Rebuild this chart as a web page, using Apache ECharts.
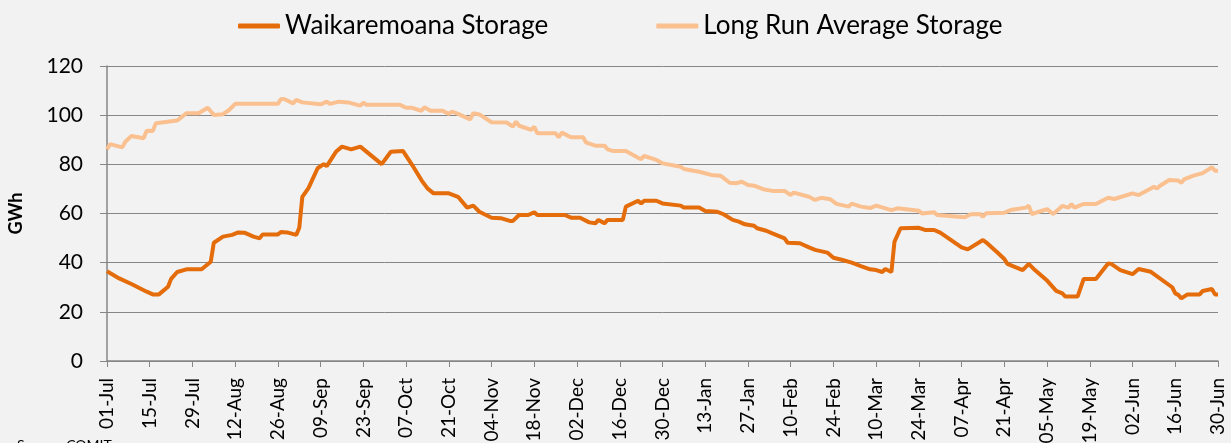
<!DOCTYPE html>
<html>
<head>
<meta charset="utf-8">
<title>Waikaremoana Storage</title>
<script src="https://cdn.jsdelivr.net/npm/echarts@6/dist/echarts.min.js"></script>
<style>
    html, body { margin: 0; padding: 0; background: #f2f2f2; }
    #storageChart { width: 1231px; height: 443px; }
</style>
</head>
<body>
<div id="storageChart"></div>
<script>
// tick labels, one every 14 days from 01-Jul
var tickLabels = ['01-Jul', '15-Jul', '29-Jul', '12-Aug', '26-Aug', '09-Sep', '23-Sep', '07-Oct', '21-Oct',
    '04-Nov', '18-Nov', '02-Dec', '16-Dec', '30-Dec', '13-Jan', '27-Jan', '10-Feb', '24-Feb', '10-Mar',
    '24-Mar', '07-Apr', '21-Apr', '05-May', '19-May', '02-Jun', '16-Jun', '30-Jun'];

// Waikaremoana storage (day since 01-Jul, GWh)
var storageDay = [0, 4, 8, 13, 15, 17, 20, 21, 23, 26, 31, 34, 35, 38, 41, 43, 45, 48, 50, 51, 56, 57, 59, 62,
    63, 64, 66, 69, 71, 72, 75, 77, 80, 83, 90, 93, 97, 100, 103, 105, 107, 112, 115, 118, 120, 122, 126,
    129, 132, 133, 135, 138, 140, 141, 150, 152, 155, 158, 160, 161, 163, 164, 169, 170, 174, 175, 176,
    180, 182, 188, 189, 194, 196, 200, 202, 205, 207, 209, 212, 213, 216, 218, 222, 223, 227, 230, 232,
    236, 238, 241, 244, 247, 250, 252, 254, 255, 257, 258, 260, 266, 268, 271, 273, 280, 282, 287, 288,
    292, 294, 295, 300, 302, 304, 308, 311, 313, 314, 318, 320, 324, 328, 329, 332, 336, 338, 342, 349,
    350, 351, 352, 354, 358, 359, 362, 363, 364];
var storageGWh = [36.5, 33.6, 31.3, 28.2, 27.1, 27.1, 30.2, 33.4, 36.2, 37.3, 37.3, 40.4, 48.1, 50.6, 51.3,
    52.3, 52.2, 50.6, 49.9, 51.5, 51.5, 52.5, 52.3, 51.3, 54.2, 66.8, 70.3, 78.4, 80.1, 79.3, 85.1, 87.2,
    86.1, 87.2, 80.1, 85.1, 85.4, 79.7, 73.6, 70.2, 68.2, 68.2, 66.8, 62.4, 63.2, 60.7, 58.3, 58.1, 57,
    57, 59.4, 59.4, 60.5, 59.4, 59.4, 58.3, 58.3, 56.4, 56, 57.4, 56, 57.4, 57.4, 62.8, 65.2, 64.1, 65.2,
    65.2, 64.1, 63.2, 62.4, 62.4, 61, 60.7, 59.7, 57.4, 56.7, 55.6, 55, 54, 53, 51.9, 49.9, 48.1, 47.9,
    46.2, 45.2, 44.1, 42, 41.1, 40, 38.6, 37.3, 37, 36.2, 37.4, 36.2, 48.5, 54, 54.2, 53.3, 53.3, 52.2,
    46.2, 45.4, 49.2, 48.3, 43.8, 41.5, 39.5, 37, 39.5, 37, 32.7, 28.5, 27.5, 26.2, 26.2, 33.4, 33.4,
    39.7, 39.5, 37, 35.3, 37.4, 36.3, 30, 27.5, 26.9, 25.5, 27.1, 27.1, 28.5, 29.3, 27.1, 27.1];

// long run average storage (day since 01-Jul, GWh)
var avgDay = [0, 1, 5, 6, 8, 12, 13, 15, 16, 23, 26, 30, 33, 35, 38, 40, 42, 56, 57, 58, 61, 62, 64, 70, 72,
    73, 76, 79, 83, 84, 85, 96, 98, 100, 103, 104, 106, 110, 112, 113, 115, 119, 120, 122, 126, 131, 133,
    134, 135, 139, 140, 141, 147, 148, 149, 152, 156, 157, 160, 163, 164, 166, 170, 174, 175, 176, 180,
    182, 188, 189, 194, 198, 201, 204, 206, 208, 210, 212, 215, 218, 222, 224, 225, 230, 232, 234, 237,
    239, 243, 244, 247, 250, 252, 257, 259, 266, 267, 271, 272, 281, 283, 286, 287, 288, 294, 296, 301,
    302, 303, 308, 310, 313, 315, 316, 317, 320, 324, 328, 330, 336, 338, 342, 343, 344, 345, 348, 351,
    352, 353, 356, 359, 362, 363, 364];
var avgGWh = [86.1, 88.2, 86.9, 89.2, 91.5, 90.6, 93.7, 93.6, 96.7, 97.8, 100.8, 100.8, 103, 100.1, 100.4,
    102.1, 104.6, 104.6, 106.6, 106.6, 104.8, 106.2, 105.2, 104.4, 105.5, 104.6, 105.5, 105.2, 103.9,
    105.1, 104.2, 104.2, 103, 103, 101.8, 103.2, 101.8, 101.8, 100.5, 101.4, 100.5, 98.3, 100.8, 100.3,
    97.1, 97, 95.3, 97.4, 95.7, 94, 95.3, 92.6, 92.6, 91, 92.9, 91, 91, 88.8, 87.6, 87.6, 86.1, 85.4,
    85.4, 82.7, 82.1, 83.4, 81.8, 80.4, 79, 78.1, 77, 75.7, 75.4, 72.5, 72.3, 72.9, 71.6, 71.3, 69.9,
    69.2, 69.2, 67.5, 68.5, 66.8, 65.5, 66.4, 65.8, 63.9, 62.8, 64, 62.8, 62.2, 63.2, 61.4, 62.1, 61.1,
    60, 60.5, 59.4, 58.5, 59.7, 59.8, 58.7, 60.1, 60.3, 61.4, 62.4, 63.2, 59.8, 61.8, 59.8, 63.1, 62.4,
    63.8, 62.4, 63.9, 63.9, 66.4, 65.9, 68.2, 67.5, 70.2, 70.9, 70.2, 71.3, 73.6, 73.4, 72.5, 74, 75.4,
    76.4, 78.8, 77.4, 77.4];

document.addEventListener('DOMContentLoaded', function () {
    initStorageChart();
});

function pairs(days, values) {
    return days.map(function (d, i) { return [d, values[i]]; });
}

function initStorageChart() {
    const chartDom = document.getElementById('storageChart');
    if (!chartDom) return;

    const myChart = echarts.init(chartDom);
    const font = 'Lato, "Liberation Sans", sans-serif';

    const option = {
        backgroundColor: '#f2f2f2',
        animation: false,
        grid: {
            left: 107,
            right: 13,
            top: 66,
            bottom: 82,
            containLabel: false,
            outerBoundsMode: 'none'
        },
        legend: {
            left: 233,
            top: 8,
            itemWidth: 42,
            itemHeight: 5,
            itemGap: 108,
            icon: 'roundRect',
            textStyle: {
                color: '#000',
                fontSize: 26,
                fontFamily: font
            },
            data: ['Waikaremoana Storage', 'Long Run Average Storage']
        },
        xAxis: {
            type: 'value',
            min: 0,
            max: 364,
            interval: 14,
            axisLine: {
                lineStyle: { color: '#868686', width: 1.5 }
            },
            axisTick: {
                length: 6,
                lineStyle: { color: '#868686' }
            },
            splitLine: { show: false },
            axisLabel: {
                rotate: 90,
                margin: 17,
                fontSize: 19,
                color: '#000',
                fontFamily: font,
                showMaxLabel: true,
                formatter: function (v) {
                    return tickLabels[Math.round(v / 14)] || '';
                }
            }
        },
        yAxis: {
            type: 'value',
            min: 0,
            max: 120,
            interval: 20,
            name: 'GWh',
            nameLocation: 'middle',
            nameRotate: 90,
            nameGap: 82,
            nameTextStyle: {
                color: '#000',
                fontSize: 18,
                fontWeight: 'bold',
                fontFamily: font
            },
            axisLine: {
                show: true,
                lineStyle: { color: '#868686', width: 1.5 }
            },
            axisTick: {
                show: true,
                length: 7,
                lineStyle: { color: '#868686' }
            },
            splitLine: {
                lineStyle: { color: '#868686', width: 1 }
            },
            axisLabel: {
                margin: 24,
                fontSize: 21,
                color: '#000',
                fontFamily: font
            }
        },
        series: [
            {
                name: 'Long Run Average Storage',
                type: 'line',
                data: pairs(avgDay, avgGWh),
                showSymbol: false,
                color: '#fac090',
                lineStyle: { color: '#fac090', width: 4 },
                z: 2
            },
            {
                name: 'Waikaremoana Storage',
                type: 'line',
                data: pairs(storageDay, storageGWh),
                showSymbol: false,
                color: '#e46c0a',
                lineStyle: { color: '#e46c0a', width: 4 },
                z: 3
            }
        ],
        graphic: [
            {
                type: 'text',
                left: 17,
                top: 438,
                style: {
                    text: 'Source: COMIT',
                    fill: '#000',
                    fontSize: 14,
                    fontFamily: font
                }
            }
        ]
    };

    myChart.setOption(option);

    window.addEventListener('resize', function () {
        myChart.resize();
    });
}
</script>
</body>
</html>
